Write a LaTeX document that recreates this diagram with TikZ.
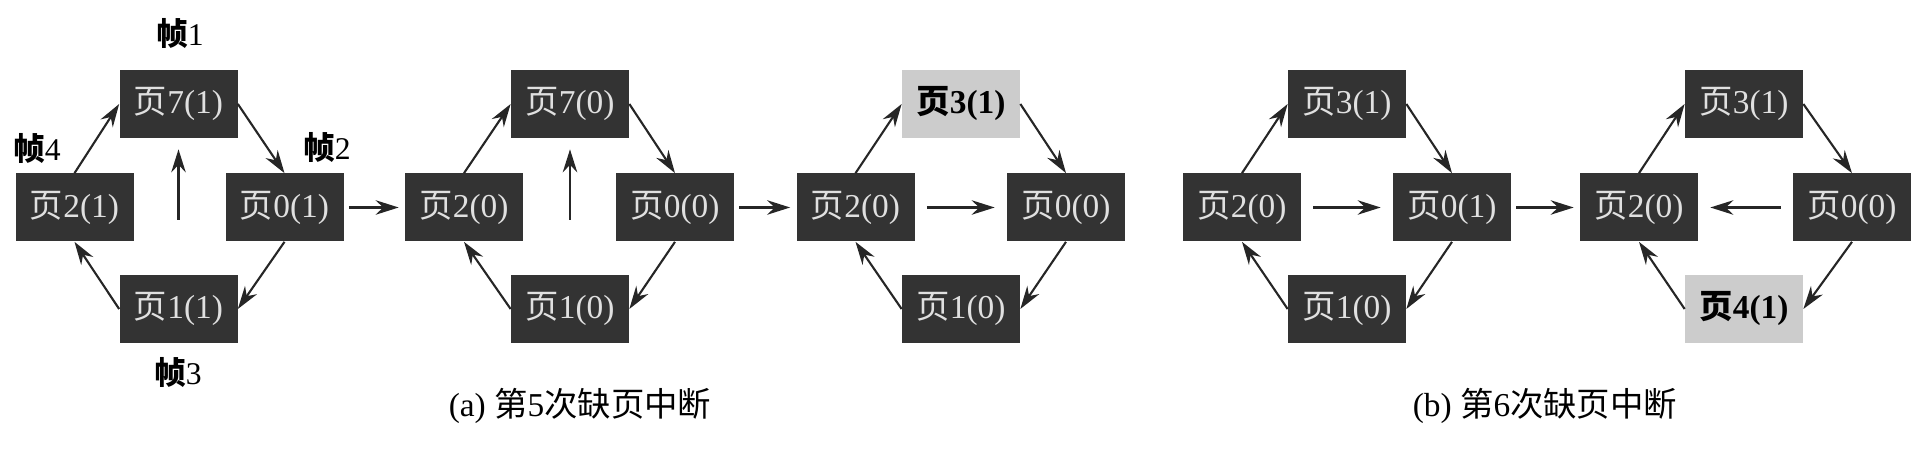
\documentclass[tikz,border=0pt]{standalone}
\usepackage{fontspec}
\setmainfont{Liberation Serif}
\newfontfamily\cjk{Noto Sans CJK SC}
\usetikzlibrary{arrows.meta}
\newcommand{\yechar}{{\cjk 页}}
\newcommand{\zhenchar}{{\cjk\bfseries 帧}}

\begin{document}
\begin{tikzpicture}[
  >={Stealth[length=4.6mm,width=2.9mm,inset=1.5mm]},
  pgnode/.style={rectangle, fill=black!80, text=white!88!black, minimum width=2.36cm, minimum height=1.36cm, inner sep=0pt, font=\fontsize{19}{22}\selectfont},
  hotnode/.style={pgnode, fill=black!20, text=black, font=\fontsize{19}{22}\selectfont\bfseries},
  cycmap/.style={->, draw=black!85, line width=1.2pt},
  movemap/.style={->, draw=black!85, line width=1.2pt, shorten <=0.24cm, shorten >=0.24cm},
  nextmap/.style={->, draw=black!85, line width=1.2pt, shorten <=0.1cm, shorten >=0.12cm},
  frlabel/.style={inner sep=0pt, font=\fontsize{18}{21}\selectfont},
  subcap/.style={inner sep=0pt, font=\fontsize{19}{22}\selectfont}
]
  \useasboundingbox (0,0) rectangle (38.52,9.04);

  \node[pgnode] (a2) at (1.49,4.89) {\yechar 2(1)};
  \node[pgnode] (a7) at (3.57,6.96) {\yechar 7(1)};
  \node[pgnode] (a0) at (5.69,4.89) {\yechar 0(1)};
  \node[pgnode] (a1) at (3.57,2.86) {\yechar 1(1)};
  \node[frlabel] (f1) at (3.60,8.38) {\zhenchar 1};
  \node[frlabel] (f2) at (6.54,6.10) {\zhenchar 2};
  \node[frlabel] (f3) at (3.56,1.60) {\zhenchar 3};
  \node[frlabel] (f4) at (0.74,6.08) {\zhenchar 4};
  \draw[cycmap] (a2.north) -- (a7.west);
  \draw[cycmap] (a7.east) -- (a0.north);
  \draw[cycmap] (a0.south) -- (a1.east);
  \draw[cycmap] (a1.west) -- (a2.south);
  \draw[cycmap, shorten <=1.1cm, shorten >=0.22cm] (a1) -- (a7);

  \node[pgnode] (b2) at (9.28,4.89) {\yechar 2(0)};
  \node[pgnode] (b7) at (11.40,6.96) {\yechar 7(0)};
  \node[pgnode] (b0) at (13.50,4.89) {\yechar 0(0)};
  \node[pgnode] (b1) at (11.40,2.86) {\yechar 1(0)};
  \draw[nextmap] (a0) -- (b2);
  \draw[cycmap] (b2.north) -- (b7.west);
  \draw[cycmap] (b7.east) -- (b0.north);
  \draw[cycmap] (b0.south) -- (b1.east);
  \draw[cycmap] (b1.west) -- (b2.south);
  \draw[cycmap, shorten <=1.1cm, shorten >=0.22cm] (b1) -- (b7);

  \node[pgnode] (c2) at (17.11,4.89) {\yechar 2(0)};
  \node[hotnode] (c3) at (19.22,6.96) {\yechar 3(1)};
  \node[pgnode] (c0) at (21.32,4.89) {\yechar 0(0)};
  \node[pgnode] (c1) at (19.22,2.86) {\yechar 1(0)};
  \draw[nextmap] (b0) -- (c2);
  \draw[cycmap] (c2.north) -- (c3.west);
  \draw[cycmap] (c3.east) -- (c0.north);
  \draw[cycmap] (c0.south) -- (c1.east);
  \draw[cycmap] (c1.west) -- (c2.south);
  \draw[movemap] (c2) -- (c0);
  \node[subcap] (capa) at (11.60,0.92) {(a) {\cjk 第}5{\cjk 次缺页中断}};

  \node[pgnode] (d2) at (24.84,4.89) {\yechar 2(0)};
  \node[pgnode] (d3) at (26.94,6.96) {\yechar 3(1)};
  \node[pgnode] (d0) at (29.04,4.89) {\yechar 0(1)};
  \node[pgnode] (d1) at (26.94,2.86) {\yechar 1(0)};
  \draw[cycmap] (d2.north) -- (d3.west);
  \draw[cycmap] (d3.east) -- (d0.north);
  \draw[cycmap] (d0.south) -- (d1.east);
  \draw[cycmap] (d1.west) -- (d2.south);
  \draw[movemap] (d2) -- (d0);

  \node[pgnode] (e2) at (32.78,4.89) {\yechar 2(0)};
  \node[pgnode] (e3) at (34.88,6.96) {\yechar 3(1)};
  \node[pgnode] (e0) at (37.04,4.89) {\yechar 0(0)};
  \node[hotnode] (e4) at (34.88,2.86) {\yechar 4(1)};
  \draw[nextmap] (d0) -- (e2);
  \draw[cycmap] (e2.north) -- (e3.west);
  \draw[cycmap] (e3.east) -- (e0.north);
  \draw[cycmap] (e0.south) -- (e4.east);
  \draw[cycmap] (e4.west) -- (e2.south);
  \draw[movemap] (e0) -- (e2);
  \node[subcap] (capb) at (30.90,0.92) {(b) {\cjk 第}6{\cjk 次缺页中断}};
\end{tikzpicture}
\end{document}
